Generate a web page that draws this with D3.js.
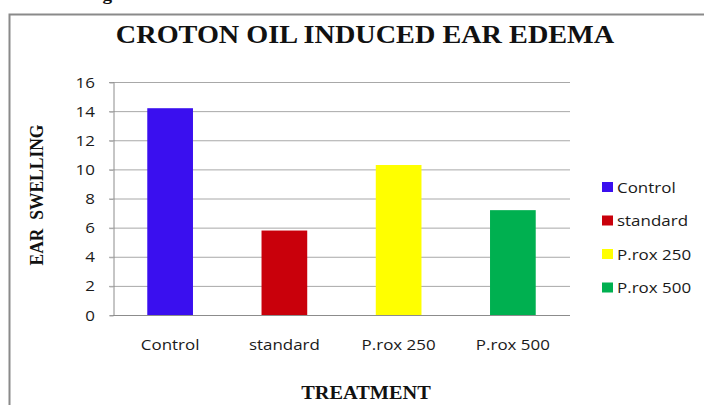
<!DOCTYPE html>
<html>
<head>
<meta charset="utf-8">
<script src="https://cdn.jsdelivr.net/npm/d3@7"></script>
<style>
  body { margin:0; background:#fff; }
  svg { display:block; }
  .lbl { font-family:"Open Sans", sans-serif; font-size:15px; fill:#1a1a1a; }
  .ser { font-family:"Liberation Serif", "Times New Roman", serif; font-weight:bold; fill:#111; }
</style>
</head>
<body>
<div id="chart"></div>
<script>
// datos
var categorias = ["Control", "standard", "P.rox 250", "P.rox 500"];
var valores = [14.2, 5.8, 10.3, 7.2];
var colores = ["#3A0FEF", "#C9000B", "#FFFF00", "#00B050"];
var ticksY = [0, 2, 4, 6, 8, 10, 12, 14, 16];

var width = 704, height = 405;
var margin = {top:82, right:134, bottom:90, left:113};
var SX = 1.13; // la imagen original esta estirada en horizontal

var svg = d3.select("#chart").append("svg")
    .attr("width", width)
    .attr("height", height);

// texto estirado
function texto(x, y, t, cls, anchor, rot) {
    return svg.append("text")
        .attr("class", cls)
        .attr("text-anchor", anchor || "start")
        .attr("transform", "translate(" + x + "," + y + ") scale(" + SX + ",1)" + (rot ? " rotate(" + rot + ")" : ""))
        .text(t);
}

// marco
svg.append("rect")
    .attr("x", 9.5).attr("y", 14.5)
    .attr("width", 710).attr("height", 420)
    .attr("fill", "none")
    .attr("stroke", "#8a8a8a")
    .attr("stroke-width", 2);

// trozo del pie de figura cortado arriba
texto(112, -0.5, "Fig", "ser", "end").style("font-size", "17px");

//Escalas
var x = d3.scaleBand()
    .domain(categorias)
    .range([margin.left, width - margin.right])
    .paddingInner(0.6)
    .paddingOuter(0.3);

var y = d3.scaleLinear()
    .domain([0, 16])
    .range([height - margin.bottom, margin.top]);

//Rejilla
svg.append("g")
    .selectAll("line")
    .data(ticksY.filter(d => d > 0)).enter()
    .append("line")
    .attr("x1", margin.left - 4)
    .attr("x2", width - margin.right)
    .attr("y1", d => y(d) + 0.5)
    .attr("y2", d => y(d) + 0.5)
    .attr("stroke", "#a8a8a8")
    .attr("stroke-width", 1);

//Barras
svg.append("g")
    .selectAll("rect")
    .data(valores).enter()
    .append("rect")
    .attr("x", (d, i) => x(categorias[i]))
    .attr("y", d => y(d))
    .attr("width", x.bandwidth())
    .attr("height", d => y(0) - y(d))
    .attr("fill", (d, i) => colores[i]);

//Ejes
var ejeY = d3.axisLeft(y).tickValues(ticksY).tickSize(4).tickFormat(d3.format("d"));
var gY = svg.append("g")
    .attr("transform", "translate(" + (margin.left + 0.5) + ",0)")
    .call(ejeY);
gY.select(".domain").attr("stroke", "#8c8c8c");
gY.selectAll(".tick line").attr("stroke", "#a8a8a8").attr("transform", "translate(0,0.5)");
gY.selectAll(".tick text").remove();

// etiquetas Y (estiradas)
ticksY.forEach(function (t) {
    texto(95, y(t) + 5.5, t, "lbl", "end");
});

svg.append("line")
    .attr("x1", margin.left)
    .attr("x2", width - margin.right)
    .attr("y1", y(0) + 0.5)
    .attr("y2", y(0) + 0.5)
    .attr("stroke", "#8c8c8c");

// etiquetas X
categorias.forEach(function (c) {
    texto(x(c) + x.bandwidth() / 2, 350, c, "lbl", "middle");
});

//Titulos
texto(365, 43, "CROTON OIL INDUCED EAR EDEMA", "ser", "middle").style("font-size", "25px");
texto(366, 399, "TREATMENT", "ser", "middle").style("font-size", "18px");
texto(43, 195, "EAR\u00a0\u00a0SWELLING", "ser", "middle", -90).style("font-size", "17.5px");

//Leyenda
var ley = svg.append("g");
categorias.forEach(function (c, i) {
    var cy = 187 + i * 33.5;
    ley.append("rect")
        .attr("x", 602).attr("y", cy - 5)
        .attr("width", 11).attr("height", 10)
        .attr("fill", colores[i]);
    texto(617, cy + 5.5, c, "lbl", "start");
});
</script>
</body>
</html>
